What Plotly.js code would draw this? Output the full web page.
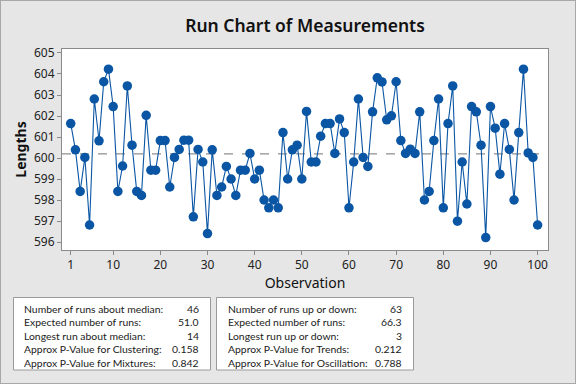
<!DOCTYPE html>
<html><head><meta charset="utf-8">
<script src="https://cdn.plot.ly/plotly-3.0.1.min.js"></script>
<style>
html,body{margin:0;padding:0;background:#e6e6e6;}
#wrap{width:576px;height:384px;box-sizing:border-box;border:1px solid #a8a8a8;background:#e6e6e6;}
#chart{width:574px;height:382px;}
</style></head>
<body><div id="wrap"><div id="chart"></div></div>
<script>
const observations = Array.from({length:100},(_,i)=>i+1);
const lengths = [
601.64,600.39,598.41,600.03,596.81,602.81,600.82,603.63,604.23,602.45,
598.41,599.62,603.43,600.61,598.41,598.22,602.03,599.42,599.42,600.83,
600.83,598.62,600.03,600.41,600.85,600.85,597.20,600.41,599.81,596.40,
600.39,598.22,598.62,599.60,599.00,598.22,599.42,599.42,600.22,599.00,
599.42,598.00,597.63,598.00,597.63,601.21,599.00,600.39,600.61,599.00,
602.22,599.81,599.81,601.04,601.64,601.64,600.22,601.86,601.21,597.63,
599.81,602.81,600.03,599.60,602.20,603.82,603.62,601.82,602.01,603.63,
600.83,600.22,600.42,600.22,602.20,598.00,598.41,600.83,602.81,597.63,
601.64,603.43,596.99,599.81,597.81,602.45,602.20,600.61,596.21,602.45,
601.42,599.23,601.64,600.41,598.00,601.21,604.23,600.24,600.03,596.81
];
const medianValue = 600.2;
const xTickVals = [1,10,20,30,40,50,60,70,80,90,100];
const yTickVals = [596,597,598,599,600,601,602,603,604,605];
const statsLeftLabels = ["Number of runs about median:","Expected number of runs:","Longest run about median:","Approx P-Value for Clustering:","Approx P-Value for Mixtures:"];
const statsLeftValues = ["46","51.0","14","0.158","0.842"];
const statsRightLabels = ["Number of runs up or down:","Expected number of runs:","Longest run up or down:","Approx P-Value for Trends:","Approx P-Value for Oscillation:"];
const statsRightValues = ["63","66.3","3","0.212","0.788"];

// plot area geometry (inner pixels)
const L=61, T=48, R=27, B=133, Wd=574, Ht=382;
const W=Wd-L-R, H=Ht-T-B;
const px = x => (x-1-L)/W;      // absolute image x -> paper
const py = y => (Ht-B-(y-1))/H; // absolute image y -> paper

const blue = '#0a56a4';
const font = "'Noto Sans', 'Open Sans', sans-serif";
const sfont = "Lato, 'Noto Sans', sans-serif";

const shapes = [
  {type:'line', xref:'paper', yref:'y', x0:0, x1:1, y0:medianValue, y1:medianValue,
   line:{color:'#8f8f8f', width:1.2, dash:'dash'}, layer:'below'},
  {type:'rect', xref:'paper', yref:'paper', x0:px(13.5), x1:px(210.5), y0:py(370), y1:py(297.5),
   fillcolor:'white', line:{color:'#9a9a9a', width:1}},
  {type:'rect', xref:'paper', yref:'paper', x0:px(216.5), x1:px(413.5), y0:py(370), y1:py(297.5),
   fillcolor:'white', line:{color:'#9a9a9a', width:1}}
];
const rowY = [308.5, 322, 335.5, 349, 362.5];
const annotations = [];
const tf = {family:sfont, size:10.4, color:'#1a1a1a'};
rowY.forEach((y,i)=>{
  annotations.push({xref:'paper',yref:'paper',x:px(21.5),y:py(y),text:statsLeftLabels[i],showarrow:false,xanchor:'left',yanchor:'middle',font:tf});
  annotations.push({xref:'paper',yref:'paper',x:px(201),y:py(y),text:statsLeftValues[i],showarrow:false,xanchor:'right',yanchor:'middle',font:tf});
  annotations.push({xref:'paper',yref:'paper',x:px(226),y:py(y),text:statsRightLabels[i],showarrow:false,xanchor:'left',yanchor:'middle',font:tf});
  annotations.push({xref:'paper',yref:'paper',x:px(404),y:py(y),text:statsRightValues[i],showarrow:false,xanchor:'right',yanchor:'middle',font:tf});
});

const trace = {
  x: observations, y: lengths, type:'scatter', mode:'lines+markers',
  line:{color:blue, width:1.1},
  marker:{color:blue, size:9.5, line:{width:0}}
};

const layout = {
  width:Wd, height:Ht,
  paper_bgcolor:'#e6e6e6', plot_bgcolor:'#ffffff',
  margin:{l:L, r:R, t:T, b:B, pad:0},
  showlegend:false,
  title:{text:'Run Chart of Measurements', font:{family:font, size:17.5, color:'#111', weight:600}, x:0.5, xanchor:'center', y:1-25/Ht, yanchor:'middle', xref:'paper'},
  xaxis:{range:[-0.85,102.2], tickvals:xTickVals, ticks:'outside', ticklen:4, tickcolor:'#8a8a8a',
         showline:true, mirror:true, linecolor:'#8a8a8a', linewidth:1, showgrid:false, zeroline:false,
         tickfont:{family:font, size:12, color:'#222'},
         title:{text:'Observation', font:{family:font, size:14, color:'#111'}, standoff:1}},
  yaxis:{range:[595.62,605.19], tickvals:yTickVals, ticks:'outside', ticklen:4, tickcolor:'#8a8a8a',
         showline:true, mirror:true, linecolor:'#8a8a8a', linewidth:1, showgrid:false, zeroline:false,
         tickfont:{family:font, size:12, color:'#222'},
         title:{text:'Lengths', font:{family:font, size:14, color:'#111', weight:'bold'}, standoff:4}},
  shapes: shapes,
  annotations: annotations
};
Plotly.newPlot('chart',[trace],layout,{displayModeBar:false, staticPlot:true});
</script></body></html>
